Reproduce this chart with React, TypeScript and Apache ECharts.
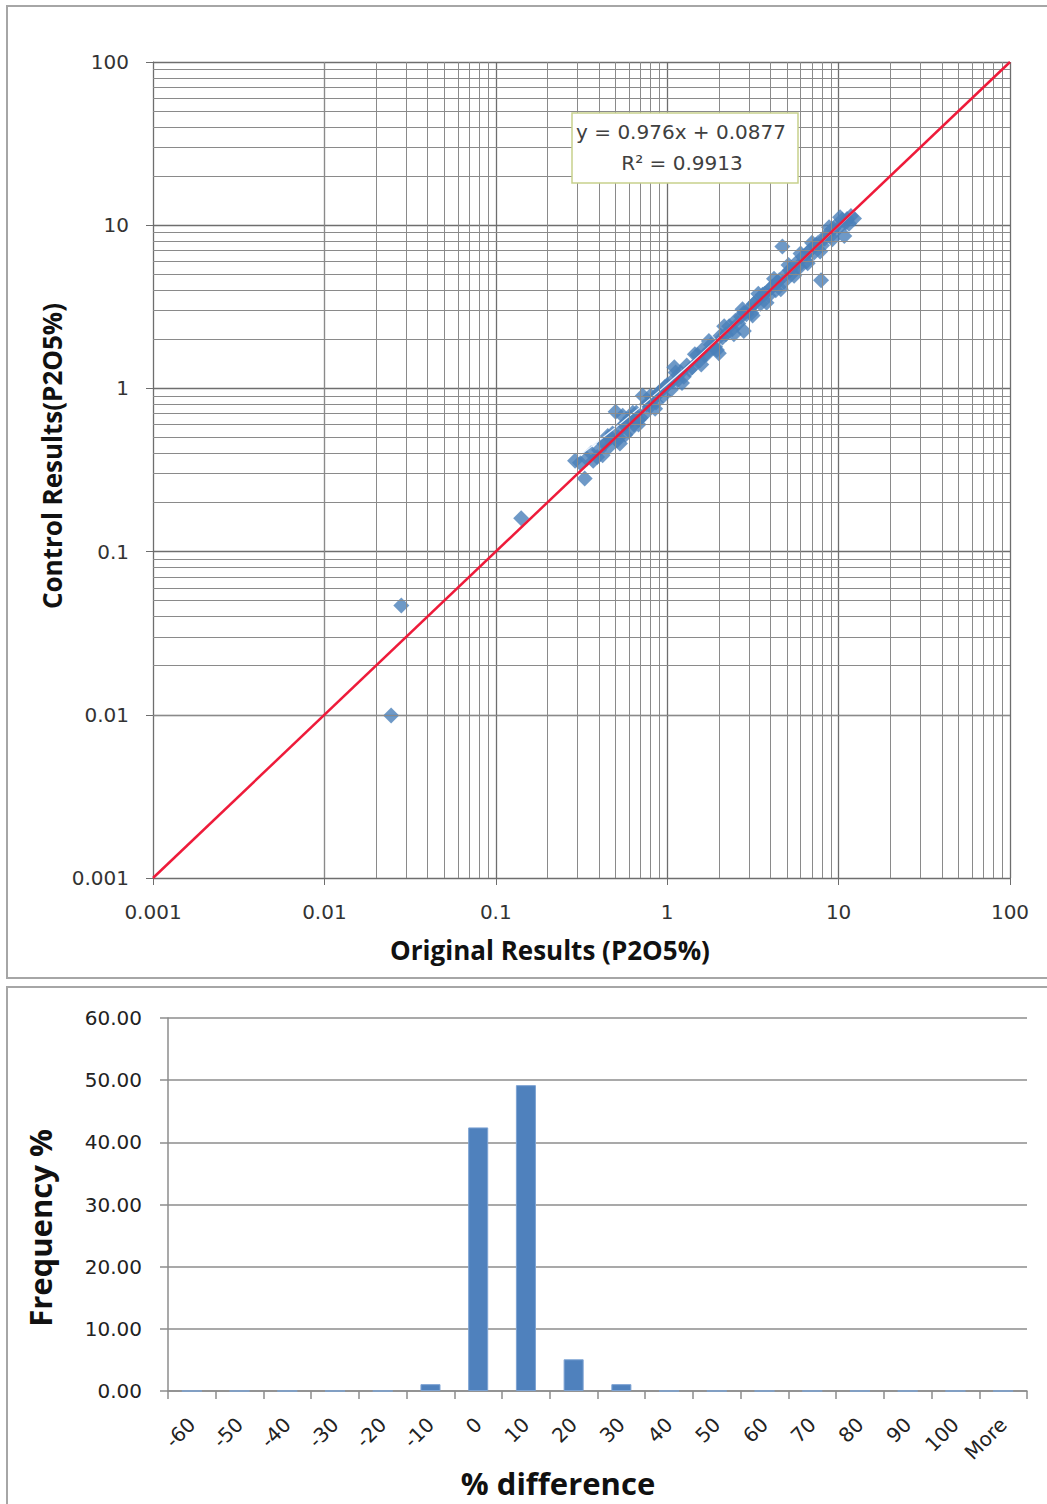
import React, { useEffect, useRef } from "react";
import * as echarts from "echarts";

// ---- scatter data (Original vs Control, P2O5 %) ----
const originalResults = [
  0.0245, 0.0281, 0.1406,
  0.29, 0.31, 0.33, 0.34, 0.36, 0.37, 0.39, 0.40, 0.42, 0.43, 0.44, 0.46, 0.47, 0.48, 0.50, 0.51, 0.52, 0.54, 0.55, 0.56, 0.57, 0.58, 0.60, 0.61, 0.62, 0.64, 0.66, 0.68, 0.70, 0.72, 0.74, 0.76, 0.78, 0.80, 0.82, 0.86, 0.88, 0.90, 0.95, 0.97,
  1.0, 1.05, 1.08, 1.1, 1.15, 1.2, 1.25, 1.3, 1.35, 1.4, 1.5, 1.55, 1.6, 1.65, 1.7, 1.8, 1.85, 1.9, 2.0, 2.05, 2.1, 2.2, 2.3, 2.4, 2.5, 2.6, 2.7, 2.8, 2.8, 2.9, 3.0, 3.1,
  3.2, 3.3, 3.5, 3.6, 3.7, 3.9, 4.0, 4.1, 4.3, 4.4, 4.5, 4.7, 4.8, 5.0, 5.2, 5.3, 5.6, 5.8, 5.9, 6.2, 6.5, 6.7, 6.8, 7.2, 7.4, 7.6, 7.9, 8.0, 8.3, 8.5, 9.0, 9.3, 9.5, 10.0, 10.5, 10.8, 11.0, 11.2, 11.8, 12.3,
  0.45, 0.53, 0.63, 0.68, 0.80, 0.85, 1.12, 1.22, 1.45, 1.58, 1.75, 1.95, 2.15, 2.45, 2.75, 3.15, 3.4, 3.8, 4.2, 4.6, 5.1, 5.5, 6.0, 6.6, 7.0, 7.8, 8.8, 9.2, 10.2, 11.5,
];
const controlResults = [
  0.0099, 0.0468, 0.16,
  0.36, 0.35, 0.28, 0.37, 0.40, 0.36, 0.38, 0.42, 0.39, 0.46, 0.47, 0.44, 0.50, 0.53, 0.72, 0.48, 0.50, 0.57, 0.68, 0.60, 0.52, 0.61, 0.55, 0.66, 0.64, 0.60, 0.71, 0.64, 0.66, 0.90, 0.70, 0.80, 0.80, 0.78, 0.85, 0.82, 0.92, 0.95, 0.90, 1.02,
  1.05, 0.98, 1.12, 1.35, 1.12, 1.25, 1.18, 1.38, 1.30, 1.35, 1.6, 1.48, 1.72, 1.60, 1.62, 1.85, 1.78, 1.80, 1.64, 2.1, 2.05, 2.15, 2.4, 2.3, 2.6, 2.5, 2.75, 2.25, 2.9, 2.85, 3.05, 2.9,
  3.3, 3.4, 3.3, 3.75, 3.8, 3.7, 4.1, 4.2, 4.0, 4.5, 4.6, 7.4, 4.5, 5.1, 5.3, 5.0, 5.8, 5.6, 5.5, 6.4, 6.0, 6.9, 7.0, 6.8, 7.6, 7.8, 4.6, 7.5, 8.3, 8.7, 8.6, 9.5, 9.8, 9.6, 10.8, 8.6, 10.4, 10.9, 11.4, 11.0,
  0.51, 0.46, 0.71, 0.60, 0.90, 0.75, 1.25, 1.08, 1.62, 1.40, 1.95, 1.72, 2.4, 2.15, 3.05, 2.8, 3.8, 3.35, 4.7, 4.05, 5.7, 4.9, 6.7, 5.85, 7.8, 6.9, 9.7, 8.2, 11.2, 10.2,
];

// 1:1 reference line
const identityX = [0.001, 100];
const identityY = [0.001, 100];

// fitted trendline y = 0.976x + 0.0877 (values read at a few x)
const trendX = [0.3, 0.5, 1, 2, 5, 12.5];
const trendY = [0.38, 0.576, 1.064, 2.04, 4.968, 12.288];

// log-grid minor line values
const decades = [0.001, 0.01, 0.1, 1, 10];
const minorSteps = [2, 3, 4, 5, 6, 7, 8, 9];

// ---- histogram ----
const diffCategories = ["-60", "-50", "-40", "-30", "-20", "-10", "0", "10", "20", "30", "40", "50", "60", "70", "80", "90", "100", "More"];
const frequencyPct = [0, 0, 0, 0, 0, 1.1, 42.4, 49.2, 5.1, 1.1, 0, 0, 0, 0, 0, 0, 0, 0];

const equationText = "y = 0.976x + 0.0877";
const r2Text = "R² = 0.9913";

export default function App() {
  const ref = useRef<HTMLDivElement>(null);

  useEffect(() => {
    document.body.style.margin = "0";
    if (!ref.current) return;
    const chart = echarts.init(ref.current, undefined, { renderer: "svg" });

    const minorVals: number[] = [];
    decades.forEach((d) => minorSteps.forEach((m) => minorVals.push(Number((d * m).toPrecision(3)))));

    const scatterData = originalResults.map((x, i) => [x, controlResults[i]]);
    const identityData = identityX.map((x, i) => [x, identityY[i]]);
    const trendData = trendX.map((x, i) => [x, trendY[i]]);

    const tickFont = { fontFamily: "DejaVu Sans", fontSize: 20, color: "#333" };
    const gridGray = "#8a8a8a";
    const titleFont = { fontFamily: "Open Sans", fontWeight: "bold", fill: "#111", align: "center", verticalAlign: "middle" };

    const option: any = {
      animation: false,
      backgroundColor: "#ffffff",
      grid: [
        { left: 153, top: 62, width: 857, height: 816 },
        { left: 168, top: 1018, width: 859, height: 373 },
      ],
      xAxis: [
        {
          type: "log",
          logBase: 10,
          gridIndex: 0,
          min: 0.001,
          max: 100,
          axisLine: { show: true, lineStyle: { color: "#6e6e6e", width: 1 } },
          axisTick: { show: true, length: 7, lineStyle: { color: "#6e6e6e" } },
          axisLabel: { ...tickFont, margin: 24 },
          splitLine: { show: true, lineStyle: { color: "#6e6e6e", width: 1.3 } },
        },
        {
          type: "category",
          gridIndex: 1,
          data: diffCategories,
          axisLine: { show: true, lineStyle: { color: "#8c8c8c", width: 1.5 } },
          axisTick: { show: true, length: 8, alignWithLabel: false, lineStyle: { color: "#8c8c8c", width: 1.5 } },
          axisLabel: { fontFamily: "DejaVu Sans", fontSize: 20, color: "#222", rotate: 45, interval: 0, margin: 30 },
          splitLine: { show: false },
        },
      ],
      yAxis: [
        {
          type: "log",
          logBase: 10,
          gridIndex: 0,
          min: 0.001,
          max: 100,
          axisLine: { show: true, lineStyle: { color: "#6e6e6e", width: 1 } },
          axisTick: { show: true, length: 7, lineStyle: { color: "#6e6e6e" } },
          axisLabel: { ...tickFont, margin: 24 },
          splitLine: { show: true, lineStyle: { color: "#6e6e6e", width: 1.3 } },
        },
        {
          type: "value",
          gridIndex: 1,
          min: 0,
          max: 60,
          interval: 10,
          axisLine: { show: true, lineStyle: { color: "#8c8c8c", width: 1.5 } },
          axisTick: { show: true, length: 8, lineStyle: { color: "#8c8c8c", width: 1.5 } },
          axisLabel: {
            fontFamily: "DejaVu Sans",
            fontSize: 20,
            color: "#222",
            margin: 26,
            formatter: (v: number) => v.toFixed(2),
          },
          splitLine: { show: true, lineStyle: { color: "#8c8c8c", width: 1.5 } },
        },
      ],
      series: [
        {
          name: "minorGrid",
          type: "line",
          xAxisIndex: 0,
          yAxisIndex: 0,
          data: [],
          z: 1,
          silent: true,
          markLine: {
            silent: true,
            symbol: ["none", "none"],
            label: { show: false },
            animation: false,
            lineStyle: { type: "solid", color: gridGray, width: 1 },
            data: [
              ...minorVals.map((v) => ({ xAxis: v })),
              ...minorVals.map((v) => ({ yAxis: v })),
            ],
          },
        },
        {
          name: "results",
          type: "scatter",
          xAxisIndex: 0,
          yAxisIndex: 0,
          data: scatterData,
          symbol: "diamond",
          symbolSize: 16,
          itemStyle: { color: "#4A7FB9" },
          z: 3,
        },
        {
          name: "trend",
          type: "line",
          xAxisIndex: 0,
          yAxisIndex: 0,
          data: trendData,
          showSymbol: false,
          smooth: true,
          lineStyle: { color: "#e8f2ff", width: 1.2 },
          z: 4,
        },
        {
          name: "1:1",
          type: "line",
          xAxisIndex: 0,
          yAxisIndex: 0,
          data: identityData,
          showSymbol: false,
          lineStyle: { color: "#ee1b3a", width: 2.5 },
          z: 5,
        },
        {
          name: "Frequency",
          type: "bar",
          xAxisIndex: 1,
          yAxisIndex: 1,
          data: frequencyPct,
          barWidth: "42%",
          itemStyle: { color: "#4F81BD", borderColor: "#7da3d3", borderWidth: 1 },
        },
      ],
      graphic: [
        {
          type: "rect",
          shape: { x: 7, y: 6, width: 1045, height: 972 },
          style: { fill: "none", stroke: "#a6a6a6", lineWidth: 2 },
          silent: true,
          z: 0,
        },
        {
          type: "rect",
          shape: { x: 7, y: 987, width: 1045, height: 525 },
          style: { fill: "none", stroke: "#a6a6a6", lineWidth: 2 },
          silent: true,
          z: 0,
        },
        {
          type: "rect",
          shape: { x: 572, y: 113, width: 226, height: 70 },
          style: { fill: "#ffffff", stroke: "#c7d18c", lineWidth: 1.5 },
          z: 10,
        },
        {
          type: "text",
          x: 681,
          y: 132,
          style: {
            text: equationText,
            fontFamily: "DejaVu Sans",
            fontSize: 20,
            fill: "#404040",
            align: "center",
            verticalAlign: "middle",
          },
          z: 11,
        },
        {
          type: "text",
          x: 682,
          y: 163,
          style: {
            text: r2Text,
            fontFamily: "DejaVu Sans",
            fontSize: 20,
            fill: "#404040",
            align: "center",
            verticalAlign: "middle",
          },
          z: 11,
        },
        {
          type: "text",
          x: 52,
          y: 456,
          rotation: Math.PI / 2,
          style: { ...titleFont, text: "Control Results(P2O5%)", fontSize: 26 },
        },
        {
          type: "text",
          x: 550,
          y: 950,
          style: { ...titleFont, text: "Original Results (P2O5%)", fontSize: 26 },
        },
        {
          type: "text",
          x: 40,
          y: 1228,
          rotation: Math.PI / 2,
          style: { ...titleFont, text: "Frequency %", fontSize: 31 },
        },
        {
          type: "text",
          x: 558,
          y: 1483,
          style: { ...titleFont, text: "% difference", fontSize: 31 },
        },
      ],
    };

    chart.setOption(option);
    return () => chart.dispose();
  }, []);

  return <div ref={ref} style={{ width: 1047, height: 1504 }} />;
}
